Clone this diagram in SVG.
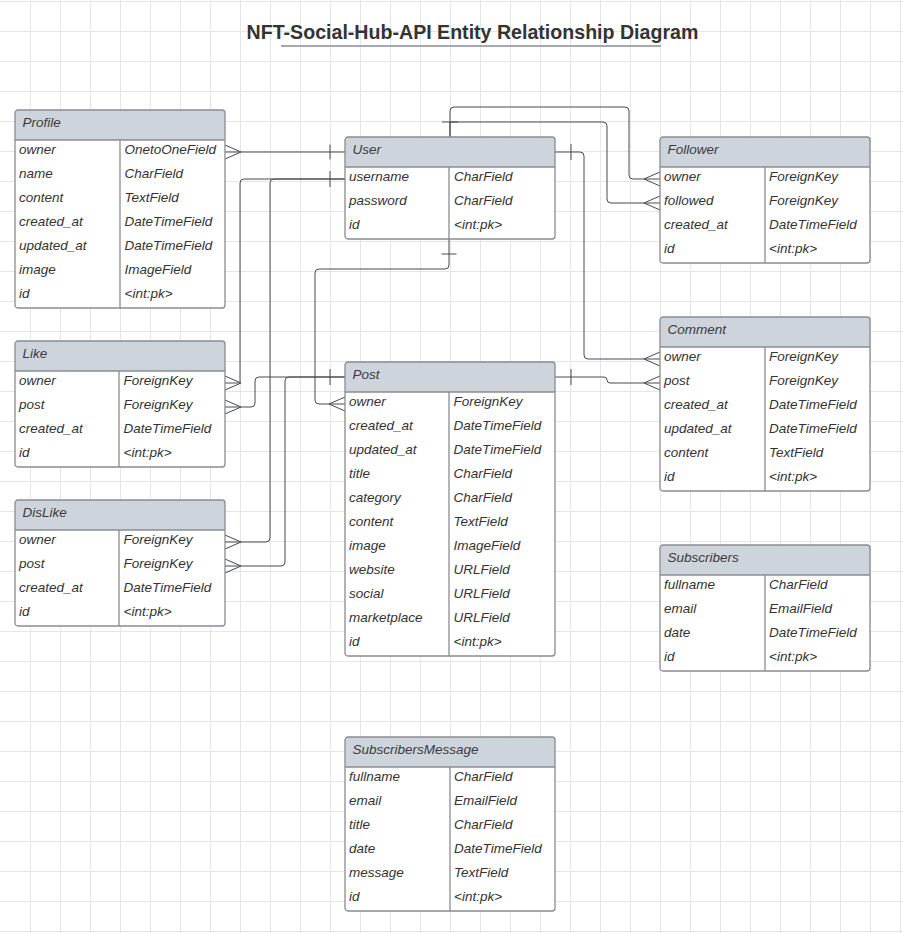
<svg xmlns="http://www.w3.org/2000/svg" width="903" height="933" viewBox="0 0 903 933">
<style>
.grid line{stroke:#e6e6e6;stroke-width:1}
.hd{fill:#ced4dc;stroke:none}
.bx{fill:none;stroke:#8a8c90;stroke-width:1.3}
.bg{fill:#ffffff;stroke:none}
.sep{stroke:#8a8c90;stroke-width:1.3}
.h{font-family:"Liberation Sans",Arial,sans-serif;font-style:italic;font-size:13.5px;fill:#3a3a3a}
.t{font-family:"Liberation Sans",Arial,sans-serif;font-style:italic;font-size:13.5px;fill:#333333}
.title{font-family:"Liberation Sans",Arial,sans-serif;font-weight:bold;font-size:19.6px;fill:#333333}
.c path,.c line{fill:none;stroke:#474a52;stroke-width:1}
.r{transform:translate(0,-1px)}
</style>
<rect width="903" height="933" fill="#ffffff"/>
<g class="grid">
<line x1="30.5" y1="0" x2="30.5" y2="933"/><line x1="60.5" y1="0" x2="60.5" y2="933"/><line x1="90.5" y1="0" x2="90.5" y2="933"/><line x1="120.5" y1="0" x2="120.5" y2="933"/><line x1="150.5" y1="0" x2="150.5" y2="933"/><line x1="180.5" y1="0" x2="180.5" y2="933"/><line x1="210.5" y1="0" x2="210.5" y2="933"/><line x1="240.5" y1="0" x2="240.5" y2="933"/><line x1="270.5" y1="0" x2="270.5" y2="933"/><line x1="300.5" y1="0" x2="300.5" y2="933"/><line x1="330.5" y1="0" x2="330.5" y2="933"/><line x1="360.5" y1="0" x2="360.5" y2="933"/><line x1="390.5" y1="0" x2="390.5" y2="933"/><line x1="420.5" y1="0" x2="420.5" y2="933"/><line x1="450.5" y1="0" x2="450.5" y2="933"/><line x1="480.5" y1="0" x2="480.5" y2="933"/><line x1="510.5" y1="0" x2="510.5" y2="933"/><line x1="540.5" y1="0" x2="540.5" y2="933"/><line x1="570.5" y1="0" x2="570.5" y2="933"/><line x1="600.5" y1="0" x2="600.5" y2="933"/><line x1="630.5" y1="0" x2="630.5" y2="933"/><line x1="660.5" y1="0" x2="660.5" y2="933"/><line x1="690.5" y1="0" x2="690.5" y2="933"/><line x1="720.5" y1="0" x2="720.5" y2="933"/><line x1="750.5" y1="0" x2="750.5" y2="933"/><line x1="780.5" y1="0" x2="780.5" y2="933"/><line x1="810.5" y1="0" x2="810.5" y2="933"/><line x1="840.5" y1="0" x2="840.5" y2="933"/><line x1="870.5" y1="0" x2="870.5" y2="933"/><line x1="900.5" y1="0" x2="900.5" y2="933"/>
<line x1="0" y1="1.5" x2="903" y2="1.5"/><line x1="0" y1="31.5" x2="903" y2="31.5"/><line x1="0" y1="61.5" x2="903" y2="61.5"/><line x1="0" y1="91.5" x2="903" y2="91.5"/><line x1="0" y1="121.5" x2="903" y2="121.5"/><line x1="0" y1="151.5" x2="903" y2="151.5"/><line x1="0" y1="181.5" x2="903" y2="181.5"/><line x1="0" y1="211.5" x2="903" y2="211.5"/><line x1="0" y1="241.5" x2="903" y2="241.5"/><line x1="0" y1="271.5" x2="903" y2="271.5"/><line x1="0" y1="301.5" x2="903" y2="301.5"/><line x1="0" y1="331.5" x2="903" y2="331.5"/><line x1="0" y1="361.5" x2="903" y2="361.5"/><line x1="0" y1="391.5" x2="903" y2="391.5"/><line x1="0" y1="421.5" x2="903" y2="421.5"/><line x1="0" y1="451.5" x2="903" y2="451.5"/><line x1="0" y1="481.5" x2="903" y2="481.5"/><line x1="0" y1="511.5" x2="903" y2="511.5"/><line x1="0" y1="541.5" x2="903" y2="541.5"/><line x1="0" y1="571.5" x2="903" y2="571.5"/><line x1="0" y1="601.5" x2="903" y2="601.5"/><line x1="0" y1="631.5" x2="903" y2="631.5"/><line x1="0" y1="661.5" x2="903" y2="661.5"/><line x1="0" y1="691.5" x2="903" y2="691.5"/><line x1="0" y1="721.5" x2="903" y2="721.5"/><line x1="0" y1="751.5" x2="903" y2="751.5"/><line x1="0" y1="781.5" x2="903" y2="781.5"/><line x1="0" y1="811.5" x2="903" y2="811.5"/><line x1="0" y1="841.5" x2="903" y2="841.5"/><line x1="0" y1="871.5" x2="903" y2="871.5"/><line x1="0" y1="901.5" x2="903" y2="901.5"/><line x1="0" y1="931.5" x2="903" y2="931.5"/>
</g>
<g id="title">
<text class="title" x="472.5" y="39" text-anchor="middle">NFT-Social-Hub-API Entity Relationship Diagram</text>
<line x1="281" y1="46" x2="661" y2="46" stroke="#a5a9b4" stroke-width="2"/>
</g>
<g class="c" id="connectors">
<path d="M225,152 H345"/>
<path d="M225,145 L241,152 L225,159"/>
<line x1="330" y1="144.5" x2="330" y2="159.5"/>
<path d="M345,179 H244 Q240,179 240,183 V383 H225"/>
<path d="M225,376 L241,383 L225,390"/>
<path d="M345,179 H274 Q270,179 270,183 V538 Q270,542 266,542 H225"/>
<path d="M225,535 L241,542 L225,549"/>
<line x1="330" y1="171" x2="330" y2="187"/>
<path d="M345,377 H259 Q255,377 255,381 V403 Q255,407 251,407 H225"/>
<path d="M225,400 L241,407 L225,414"/>
<path d="M345,377 H289 Q285,377 285,381 V562 Q285,566 281,566 H225"/>
<path d="M225,559 L241,566 L225,573"/>
<line x1="330" y1="369" x2="330" y2="385"/>
<path d="M449,239 V265 Q449,269 445,269 H319 Q315,269 315,273 V400 Q315,404 319,404 H345"/>
<path d="M345,397 L329,404 L345,411"/>
<line x1="441.5" y1="254" x2="456.5" y2="254"/>
<path d="M450,137 V111 Q450,107 454,107 H625 Q629,107 629,111 V175 Q629,179 633,179 H660"/>
<path d="M660,172 L644,179 L660,186"/>
<path d="M450,137 V122 H603 Q607,122 607,126 V199 Q607,203 611,203 H660"/>
<path d="M660,196 L644,203 L660,210"/>
<line x1="442" y1="122" x2="458" y2="122"/>
<path d="M555,152 H580 Q584,152 584,156 V355 Q584,359 588,359 H660"/>
<path d="M660,352 L644,359 L660,366"/>
<line x1="571" y1="144" x2="571" y2="160"/>
<path d="M555,377 H604 Q607,377 607,380 Q607,383 610,383 H660"/>
<path d="M660,376 L644,383 L660,390"/>
<line x1="571" y1="369" x2="571" y2="385"/>
</g>
<g id="profile" transform="translate(15,110)">
<rect class="bg" width="210" height="198" rx="3"/>
<path class="hd" d="M0,30 V3 Q0,0 3,0 H207 Q210,0 210,3 V30 Z"/>
<rect class="bx" width="210" height="198" rx="3"/>
<line class="sep" x1="0" y1="30" x2="210" y2="30"/>
<line class="sep" x1="105" y1="30" x2="105" y2="198"/>
<g class="r">
<text class="h" x="7.5" y="18">Profile</text>
<text class="t" x="4" y="45">owner</text><text class="t" x="109.5" y="45">OnetoOneField</text>
<text class="t" x="4" y="69">name</text><text class="t" x="109.5" y="69">CharField</text>
<text class="t" x="4" y="93">content</text><text class="t" x="109.5" y="93">TextField</text>
<text class="t" x="4" y="117">created_at</text><text class="t" x="109.5" y="117">DateTimeField</text>
<text class="t" x="4" y="141">updated_at</text><text class="t" x="109.5" y="141">DateTimeField</text>
<text class="t" x="4" y="165">image</text><text class="t" x="109.5" y="165">ImageField</text>
<text class="t" x="4" y="189">id</text><text class="t" x="109.5" y="189">&lt;int:pk&gt;</text>
</g>
</g>
<g id="user" transform="translate(345,137)">
<rect class="bg" width="210" height="102" rx="3"/>
<path class="hd" d="M0,30 V3 Q0,0 3,0 H207 Q210,0 210,3 V30 Z"/>
<rect class="bx" width="210" height="102" rx="3"/>
<line class="sep" x1="0" y1="30" x2="210" y2="30"/>
<line class="sep" x1="104" y1="30" x2="104" y2="102"/>
<g class="r">
<text class="h" x="7.5" y="18">User</text>
<text class="t" x="4" y="45">username</text><text class="t" x="109" y="45">CharField</text>
<text class="t" x="4" y="69">password</text><text class="t" x="109" y="69">CharField</text>
<text class="t" x="4" y="93">id</text><text class="t" x="109" y="93">&lt;int:pk&gt;</text>
</g>
</g>
<g id="follower" transform="translate(660,137)">
<rect class="bg" width="210" height="126" rx="3"/>
<path class="hd" d="M0,30 V3 Q0,0 3,0 H207 Q210,0 210,3 V30 Z"/>
<rect class="bx" width="210" height="126" rx="3"/>
<line class="sep" x1="0" y1="30" x2="210" y2="30"/>
<line class="sep" x1="105" y1="30" x2="105" y2="126"/>
<g class="r">
<text class="h" x="7.5" y="18">Follower</text>
<text class="t" x="4" y="45">owner</text><text class="t" x="109" y="45">ForeignKey</text>
<text class="t" x="4" y="69">followed</text><text class="t" x="109" y="69">ForeignKey</text>
<text class="t" x="4" y="93">created_at</text><text class="t" x="109" y="93">DateTimeField</text>
<text class="t" x="4" y="117">id</text><text class="t" x="109" y="117">&lt;int:pk&gt;</text>
</g>
</g>
<g id="like" transform="translate(15,341)">
<rect class="bg" width="210" height="126" rx="3"/>
<path class="hd" d="M0,30 V3 Q0,0 3,0 H207 Q210,0 210,3 V30 Z"/>
<rect class="bx" width="210" height="126" rx="3"/>
<line class="sep" x1="0" y1="30" x2="210" y2="30"/>
<line class="sep" x1="104" y1="30" x2="104" y2="126"/>
<g class="r">
<text class="h" x="7.5" y="18">Like</text>
<text class="t" x="4" y="45">owner</text><text class="t" x="108.5" y="45">ForeignKey</text>
<text class="t" x="4" y="69">post</text><text class="t" x="108.5" y="69">ForeignKey</text>
<text class="t" x="4" y="93">created_at</text><text class="t" x="108.5" y="93">DateTimeField</text>
<text class="t" x="4" y="117">id</text><text class="t" x="108.5" y="117">&lt;int:pk&gt;</text>
</g>
</g>
<g id="dislike" transform="translate(15,500)">
<rect class="bg" width="210" height="126" rx="3"/>
<path class="hd" d="M0,30 V3 Q0,0 3,0 H207 Q210,0 210,3 V30 Z"/>
<rect class="bx" width="210" height="126" rx="3"/>
<line class="sep" x1="0" y1="30" x2="210" y2="30"/>
<line class="sep" x1="104" y1="30" x2="104" y2="126"/>
<g class="r">
<text class="h" x="7.5" y="18">DisLike</text>
<text class="t" x="4" y="45">owner</text><text class="t" x="108.5" y="45">ForeignKey</text>
<text class="t" x="4" y="69">post</text><text class="t" x="108.5" y="69">ForeignKey</text>
<text class="t" x="4" y="93">created_at</text><text class="t" x="108.5" y="93">DateTimeField</text>
<text class="t" x="4" y="117">id</text><text class="t" x="108.5" y="117">&lt;int:pk&gt;</text>
</g>
</g>
<g id="post" transform="translate(345,362)">
<rect class="bg" width="210" height="294" rx="3"/>
<path class="hd" d="M0,30 V3 Q0,0 3,0 H207 Q210,0 210,3 V30 Z"/>
<rect class="bx" width="210" height="294" rx="3"/>
<line class="sep" x1="0" y1="30" x2="210" y2="30"/>
<line class="sep" x1="104" y1="30" x2="104" y2="294"/>
<g class="r">
<text class="h" x="7.5" y="18">Post</text>
<text class="t" x="4" y="45">owner</text><text class="t" x="108.5" y="45">ForeignKey</text>
<text class="t" x="4" y="69">created_at</text><text class="t" x="108.5" y="69">DateTimeField</text>
<text class="t" x="4" y="93">updated_at</text><text class="t" x="108.5" y="93">DateTimeField</text>
<text class="t" x="4" y="117">title</text><text class="t" x="108.5" y="117">CharField</text>
<text class="t" x="4" y="141">category</text><text class="t" x="108.5" y="141">CharField</text>
<text class="t" x="4" y="165">content</text><text class="t" x="108.5" y="165">TextField</text>
<text class="t" x="4" y="189">image</text><text class="t" x="108.5" y="189">ImageField</text>
<text class="t" x="4" y="213">website</text><text class="t" x="108.5" y="213">URLField</text>
<text class="t" x="4" y="237">social</text><text class="t" x="108.5" y="237">URLField</text>
<text class="t" x="4" y="261">marketplace</text><text class="t" x="108.5" y="261">URLField</text>
<text class="t" x="4" y="285">id</text><text class="t" x="108.5" y="285">&lt;int:pk&gt;</text>
</g>
</g>
<g id="comment" transform="translate(660,317)">
<rect class="bg" width="210" height="174" rx="3"/>
<path class="hd" d="M0,30 V3 Q0,0 3,0 H207 Q210,0 210,3 V30 Z"/>
<rect class="bx" width="210" height="174" rx="3"/>
<line class="sep" x1="0" y1="30" x2="210" y2="30"/>
<line class="sep" x1="105" y1="30" x2="105" y2="174"/>
<g class="r">
<text class="h" x="7.5" y="18">Comment</text>
<text class="t" x="4" y="45">owner</text><text class="t" x="109" y="45">ForeignKey</text>
<text class="t" x="4" y="69">post</text><text class="t" x="109" y="69">ForeignKey</text>
<text class="t" x="4" y="93">created_at</text><text class="t" x="109" y="93">DateTimeField</text>
<text class="t" x="4" y="117">updated_at</text><text class="t" x="109" y="117">DateTimeField</text>
<text class="t" x="4" y="141">content</text><text class="t" x="109" y="141">TextField</text>
<text class="t" x="4" y="165">id</text><text class="t" x="109" y="165">&lt;int:pk&gt;</text>
</g>
</g>
<g id="subscribers" transform="translate(660,545)">
<rect class="bg" width="210" height="126" rx="3"/>
<path class="hd" d="M0,30 V3 Q0,0 3,0 H207 Q210,0 210,3 V30 Z"/>
<rect class="bx" width="210" height="126" rx="3"/>
<line class="sep" x1="0" y1="30" x2="210" y2="30"/>
<line class="sep" x1="105" y1="30" x2="105" y2="126"/>
<g class="r">
<text class="h" x="7.5" y="18">Subscribers</text>
<text class="t" x="4" y="45">fullname</text><text class="t" x="109" y="45">CharField</text>
<text class="t" x="4" y="69">email</text><text class="t" x="109" y="69">EmailField</text>
<text class="t" x="4" y="93">date</text><text class="t" x="109" y="93">DateTimeField</text>
<text class="t" x="4" y="117">id</text><text class="t" x="109" y="117">&lt;int:pk&gt;</text>
</g>
</g>
<g id="subscribersmessage" transform="translate(345,737)">
<rect class="bg" width="210" height="174" rx="3"/>
<path class="hd" d="M0,30 V3 Q0,0 3,0 H207 Q210,0 210,3 V30 Z"/>
<rect class="bx" width="210" height="174" rx="3"/>
<line class="sep" x1="0" y1="30" x2="210" y2="30"/>
<line class="sep" x1="105" y1="30" x2="105" y2="174"/>
<g class="r">
<text class="h" x="7.5" y="18">SubscribersMessage</text>
<text class="t" x="4" y="45">fullname</text><text class="t" x="109" y="45">CharField</text>
<text class="t" x="4" y="69">email</text><text class="t" x="109" y="69">EmailField</text>
<text class="t" x="4" y="93">title</text><text class="t" x="109" y="93">CharField</text>
<text class="t" x="4" y="117">date</text><text class="t" x="109" y="117">DateTimeField</text>
<text class="t" x="4" y="141">message</text><text class="t" x="109" y="141">TextField</text>
<text class="t" x="4" y="165">id</text><text class="t" x="109" y="165">&lt;int:pk&gt;</text>
</g>
</g>
</svg>
